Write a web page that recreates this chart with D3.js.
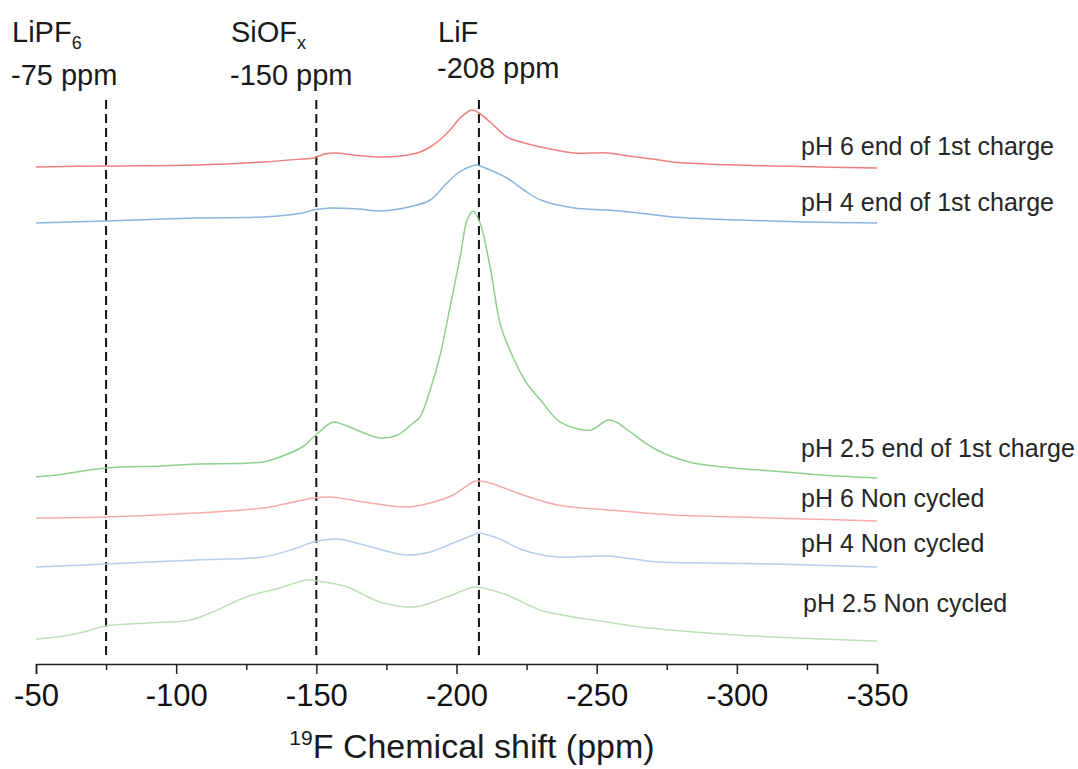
<!DOCTYPE html>
<html>
<head>
<meta charset="utf-8">
<script src="https://cdn.jsdelivr.net/npm/d3@7"></script>
<style>
  html, body { margin: 0; padding: 0; background: #fff; }
  svg { display: block; }
  text { font-family: "Liberation Sans", Arial, sans-serif; fill: #1a1a1a; }
</style>
</head>
<body>
<svg id="chart" width="1078" height="769"></svg>
<script>
// 19F MAS NMR spectra, stacked (ppm, intensity in a.u. above each trace's baseline)
const seriesNames = [
  "pH 6 end of 1st charge",
  "pH 4 end of 1st charge",
  "pH 2.5 end of 1st charge",
  "pH 6 Non cycled",
  "pH 4 Non cycled",
  "pH 2.5 Non cycled"
];

// vertical stacking offsets (a.u.)
const seriesOffsets = [496, 441, 186, 143, 97, 23];

const ph6ChargePpm = [-50, -75, -107, -131, -145, -149, -153, -157, -163, -172.7, -180, -187, -190.6, -194, -197.7, -201.3, -205.5, -208, -212, -218, -223, -230, -242, -248, -254, -259, -270, -277, -289, -313, -330, -350];
const ph6ChargeInt = [1, 2, 3, 6, 9, 10, 14, 15, 13, 11, 12, 16, 21, 28, 38, 50, 58, 55, 46, 31, 26, 21, 15, 15, 15, 13, 9, 6, 4, 2, 1, 0];

const ph4ChargePpm = [-50, -75, -107, -131, -145, -149, -155, -165, -173, -184.5, -190.6, -196.6, -201, -205.5, -207, -212, -218, -224, -230, -242, -254, -265, -277, -301, -325, -350];
const ph4ChargeInt = [0, 2, 5, 6, 10, 13, 15, 14, 12, 17, 23, 40, 51, 57, 58, 53, 45, 33, 23, 15, 13, 10, 6, 3, 1, 0];

const ph25ChargePpm = [-50, -60, -75, -95, -107, -131, -137, -145, -149, -155, -156.5, -161, -167, -173, -179, -184.5, -187, -190.6, -194, -197.7, -201.3, -203.8, -205.9, -208.4, -212, -215.5, -219, -225, -230, -236, -242, -248, -254, -257, -261, -271.5, -283, -295, -313, -330, -350];
const ph25ChargeInt = [1, 4, 10, 12, 14, 16, 21, 31, 41, 55, 56, 52, 45, 40, 43, 55, 61, 88, 121, 171, 221, 258, 267, 255, 211, 155, 128, 95, 78, 58, 50, 48, 58, 56, 48, 28, 16, 11, 7, 3, 0];

const ph6PristinePpm = [-50, -75, -107, -131, -149, -155, -167, -182, -190.6, -198.8, -205.9, -207.5, -212, -223.7, -236, -254, -277, -301, -325, -350];
const ph6PristineInt = [3, 4, 8, 13, 23, 24, 19, 14, 18, 26, 39, 40, 38, 26, 16, 11, 6, 4, 2, 0];

const ph4PristinePpm = [-50, -75, -107, -131, -143, -149, -157.4, -167, -182, -190.6, -198.8, -205.9, -207.7, -214.5, -223.7, -236, -253.7, -271.5, -289, -313, -350];
const ph4PristineInt = [0, 3, 7, 10, 19, 25, 28, 22, 12, 15, 24, 32, 34, 29, 17, 10, 11, 5, 4, 3, 0];

const ph25PristinePpm = [-50, -60, -67, -75, -90, -105, -113, -125, -137, -146.7, -152.4, -161, -172.7, -184.5, -196.6, -205.9, -207.3, -218, -229.8, -241.6, -253.7, -265.5, -289.4, -313, -350];
const ph25PristineInt = [2, 5, 9, 15, 18, 21, 29, 44, 53, 61, 59, 54, 39, 34, 44, 54, 54, 46, 31, 24, 19, 14, 8, 4, 0];

const seriesPpm = [ph6ChargePpm, ph4ChargePpm, ph25ChargePpm, ph6PristinePpm, ph4PristinePpm, ph25PristinePpm];
const seriesInt = [ph6ChargeInt, ph4ChargeInt, ph25ChargeInt, ph6PristineInt, ph4PristineInt, ph25PristineInt];

// reference shifts marked with dashed lines
const refShifts = [-75, -150, -208];
const refSpecies = ["LiPF", "SiOF", "LiF"];
const refSubscripts = ["6", "x", ""];

// axis ticks
const majorTicks = [-50, -100, -150, -200, -250, -300, -350];
const minorTicks = [-75, -125, -175, -225, -275, -325];

// ---- drawing ----
const colors = ["#ef7f7f", "#8ab4de", "#8ed08e", "#f6abab", "#b6cfec", "#bce2b6"];
const svg = d3.select("#chart");

const x = d3.scaleLinear().domain([-50, -350]).range([36, 877]);
const y = d3.scaleLinear().domain([0, 564]).range([664, 100]);

// dashed reference lines
svg.append("g").selectAll("line")
  .data(refShifts)
  .join("line")
  .attr("x1", d => x(d)).attr("x2", d => x(d))
  .attr("y1", 100).attr("y2", 660)
  .attr("stroke", "#111")
  .attr("stroke-width", 2)
  .attr("stroke-dasharray", "9,5");

// spectra
const line = d3.line()
  .x(d => x(d[0]))
  .y(d => y(d[1]))
  .curve(d3.curveCatmullRom.alpha(0.5));

const traces = seriesNames.map((name, i) => ({
  name,
  color: colors[i],
  points: seriesPpm[i].map((p, j) => [p, seriesInt[i][j] + seriesOffsets[i]])
}));

svg.append("g").selectAll("path")
  .data(traces)
  .join("path")
  .attr("d", d => line(d.points))
  .attr("fill", "none")
  .attr("stroke", d => d.color)
  .attr("stroke-width", 1.5);

// trace labels
const labelBaselines = [155, 211, 457, 507, 552, 612];
svg.append("g").selectAll("text")
  .data(seriesNames)
  .join("text")
  .attr("x", (d, i) => i === 5 ? 803 : 801)
  .attr("y", (d, i) => labelBaselines[i])
  .attr("font-size", 25)
  .style("fill", "#262626")
  .text(d => d);

// reference annotations
const annX = [12, 231, 438];
const annTop = [42, 42, 42];
const annBottom = [85, 85, 78];
refShifts.forEach((s, i) => {
  const t = svg.append("text")
    .attr("x", annX[i]).attr("y", annTop[i])
    .attr("font-size", 29);
  t.append("tspan").text(refSpecies[i]);
  if (refSubscripts[i]) {
    t.append("tspan")
      .attr("font-size", 18)
      .attr("dy", 7)
      .text(refSubscripts[i]);
  }
  svg.append("text")
    .attr("x", annX[i] - 1).attr("y", annBottom[i])
    .attr("font-size", 29)
    .text(`${s} ppm`);
});

// x axis
const axisG = svg.append("g").attr("transform", "translate(0,664)");
axisG.call(d3.axisBottom(x)
  .tickValues(majorTicks)
  .tickSize(10)
  .tickPadding(10)
  .tickFormat(d => String(d)));
axisG.append("g").call(d3.axisBottom(x)
  .tickValues(minorTicks)
  .tickSize(6)
  .tickFormat(""))
  .select(".domain").remove();
axisG.selectAll("path.domain").attr("stroke", "#222").attr("stroke-width", 1.5);
axisG.selectAll(".tick line").attr("stroke", "#222").attr("stroke-width", 1.5);
axisG.selectAll(".tick text")
  .attr("font-size", 31)
  .attr("font-family", "Liberation Sans, Arial, sans-serif")
  .style("fill", "#111");

// axis title
const title = svg.append("text")
  .attr("x", 472).attr("y", 758)
  .attr("text-anchor", "middle")
  .attr("font-size", 34);
title.append("tspan").attr("font-size", 21).attr("dy", -13).text("19");
title.append("tspan").attr("dy", 13).text("F Chemical shift (ppm)");
</script>
</body>
</html>
